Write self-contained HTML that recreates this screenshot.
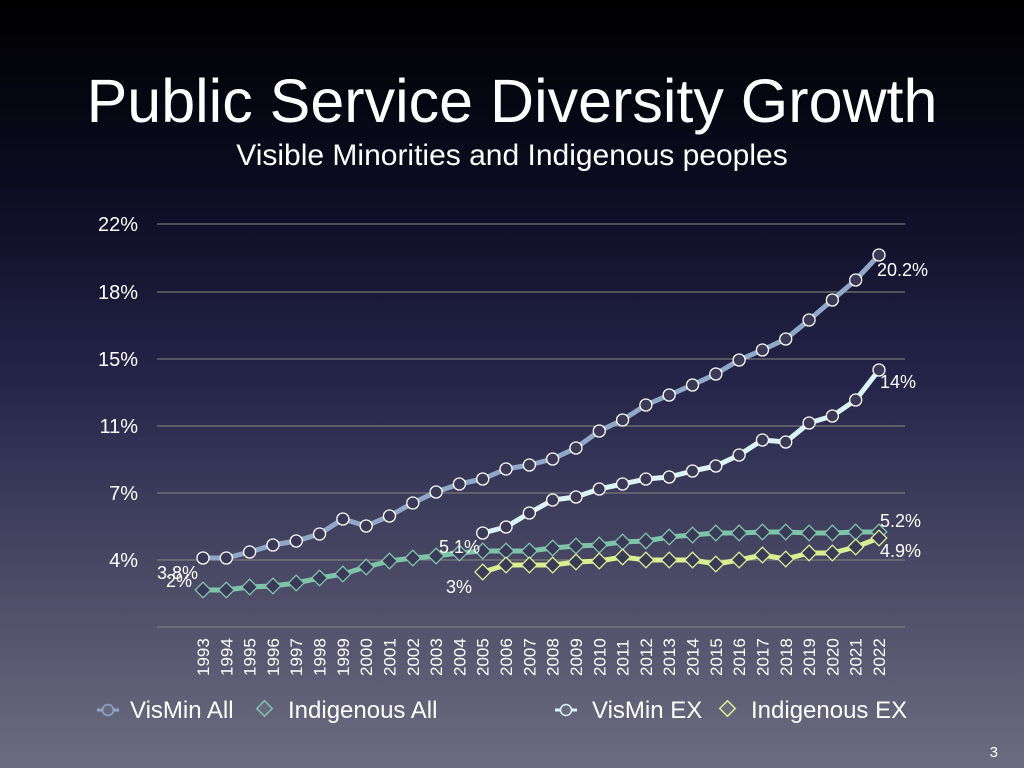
<!DOCTYPE html>
<html><head><meta charset="utf-8"><style>
html,body{margin:0;padding:0;}
body{width:1024px;height:768px;overflow:hidden;background:linear-gradient(to bottom,#000000 0%,#0c0c22 25%,#25254a 50%,#4a4a66 75%,#6c6c80 100%);font-family:"Liberation Sans",sans-serif;}
svg{position:absolute;left:0;top:0;}
</style></head><body>
<svg id="s" width="1024" height="768" xmlns="http://www.w3.org/2000/svg" font-family="Liberation Sans, sans-serif">
<text x="512" y="122" text-anchor="middle" fill="#fff" font-size="61">Public Service Diversity Growth</text>
<text x="512" y="165" text-anchor="middle" fill="#fff" font-size="30">Visible Minorities and Indigenous peoples</text>
<g stroke="#8a8a80" stroke-width="1">
<line x1="157" x2="905" y1="224" y2="224"/><line x1="157" x2="905" y1="292" y2="292"/>
<line x1="157" x2="905" y1="359" y2="359"/><line x1="157" x2="905" y1="426" y2="426"/>
<line x1="157" x2="905" y1="493" y2="493"/><line x1="157" x2="905" y1="560" y2="560"/>
<line x1="157" x2="905" y1="627" y2="627"/>
</g>
<g fill="#fff" font-size="20" text-anchor="end">
<text x="138" y="231">22%</text><text x="138" y="299">18%</text><text x="138" y="366">15%</text>
<text x="138" y="433">11%</text><text x="138" y="500">7%</text><text x="138" y="567">4%</text>
</g>
<g id="yrs" fill="#fff" font-size="17"></g>
<g id="series"></g>
<g fill="#fff" font-size="18">
<text x="157" y="579">3.8%</text><text x="166" y="587">2%</text>
<text x="439" y="553">5.1%</text><text x="446" y="593">3%</text>
<text x="877" y="276">20.2%</text><text x="880" y="388">14%</text>
<text x="880" y="527">5.2%</text><text x="880" y="557">4.9%</text>
</g>
<g font-size="24" fill="#fff">
<line x1="97" x2="119" y1="710" y2="710" stroke="#8fa8c8" stroke-width="3"/><circle cx="108" cy="710" r="5.5" fill="#6a6a7e" stroke="#8fa8c8" stroke-width="1.5"/>
<text x="130" y="718">VisMin All</text>
<rect x="259" y="703" width="11" height="11" transform="rotate(45 264.5 708.5)" fill="#6a6a7e" stroke="#7ec4a8" stroke-width="1.5"/>
<text x="288" y="718">Indigenous All</text>
<line x1="555" x2="577" y1="710" y2="710" stroke="#d8f4f4" stroke-width="3"/><circle cx="566" cy="710" r="5.5" fill="#6a6a7e" stroke="#d8f4f4" stroke-width="1.5"/>
<text x="592" y="718">VisMin EX</text>
<rect x="722" y="703" width="11" height="11" transform="rotate(45 727.5 708.5)" fill="#6a6a7e" stroke="#d8f090" stroke-width="1.5"/>
<text x="751" y="718">Indigenous EX</text>
</g>
<text x="998" y="757" fill="#fff" font-size="15" text-anchor="end">3</text>
</svg>
<script>
var NS="http://www.w3.org/2000/svg";
function X(y){return 203+(y-1993)*23.31;}
var yrs=document.getElementById("yrs"),ser=document.getElementById("series");
for(var y=1993;y<=2022;y++){var t=document.createElementNS(NS,"text");var x=X(y)+6;t.setAttribute("transform","translate("+x+",676) rotate(-90)");t.textContent=y;yrs.appendChild(t);}
var S=[
{c:"#7ec4a8",d:false,s:1993,v:[590,590,587,586,583,578,574,567,561,558,556,553,551,551,551,548,546,545,542,541,537,535,533,533,532,532,533,533,532,532]},
{c:"#d8f090",d:false,s:2005,v:[572,565,565,565,562,561,557,560,560,560,564,560,555,559,553,553,547,538]},
{c:"#8fa8c8",d:true,s:1993,v:[558,558,552,545,541,534,519,526,516,503,492,484,479,469,465,459,448,431,420,405,395,385,374,360,350,339,320,300,280,255]},
{c:"#d8f4f4",d:true,s:2005,v:[533,527,513,500,497,489,484,479,477,471,466,455,440,442,423,416,400,370]}
];
S.forEach(function(o){
 var pts=o.v.map(function(v,i){return [X(o.s+i),v];});
 var p=document.createElementNS(NS,"polyline");
 p.setAttribute("points",pts.map(function(a){return a.join(",");}).join(" "));
 p.setAttribute("fill","none");p.setAttribute("stroke",o.c);p.setAttribute("stroke-width","5");p.setAttribute("stroke-linejoin","round");
 ser.appendChild(p);
 pts.forEach(function(a){
  var m;
  if(o.d){m=document.createElementNS(NS,"circle");m.setAttribute("cx",a[0]);m.setAttribute("cy",a[1]);m.setAttribute("r","6");}
  else{m=document.createElementNS(NS,"rect");m.setAttribute("x",a[0]-5.5);m.setAttribute("y",a[1]-5.5);m.setAttribute("width","11");m.setAttribute("height","11");m.setAttribute("transform","rotate(45 "+a[0]+" "+a[1]+")");}
  m.setAttribute("fill","#3a3a58");m.setAttribute("stroke",o.d?"#ffffff":o.c);m.setAttribute("stroke-width","1.3");
  ser.appendChild(m);
 });
});
</script>
</body></html>
